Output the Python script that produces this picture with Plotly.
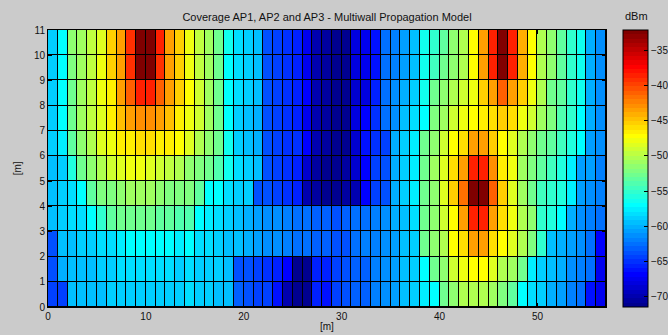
import numpy as np
import plotly.graph_objects as go

# Received power (dBm) on a 57 x 11 m grid, one value per 1 m cell.
# Rows listed from y = 10..11 m (top) down to y = 0..1 m (bottom).
row_10 = [-59, -57, -51.8, -51, -49.5, -48.3, -45.5, -43.3, -39, -32.1, -32.1, -38.8, -43.3, -45.5, -48, -49.5, -51, -52.5, -56.7, -58.2,
          -58.8, -59.5, -63.5, -64.3, -65, -65.8, -67.3, -70, -70.8, -71.5, -71.2, -68.2, -67.3, -66.2, -62.7, -62, -60.8, -59.6, -56.3, -55,
          -53.2, -51.7, -50, -47.2, -43.3, -38.8, -32.1, -38.8, -43.8, -47.4, -50.2, -51.8, -53.6, -55.1, -56.7, -60.4, -61.2]
row_9 = [-59, -57, -52.2, -51, -49.5, -48, -45.5, -43.3, -39.2, -32.5, -32.5, -39.2, -43.3, -45.5, -47.8, -49.5, -51, -52.5, -56.8, -58.2,
         -58.8, -59.5, -63.5, -64.3, -65, -65.6, -67.3, -70, -70.8, -71.4, -71.2, -68.4, -67.3, -66, -62.7, -62, -60.8, -59.4, -56.3, -54.8,
         -52.8, -51.3, -50, -47.4, -43.5, -38.8, -32.2, -38.8, -43.8, -47.4, -50.2, -51.8, -53.6, -55.1, -56.3, -60.4, -61.2]
row_8 = [-59, -57, -52.6, -51, -49.5, -48, -46.3, -43.5, -41, -38.5, -38.5, -41, -43.5, -45.5, -47.4, -49.3, -51, -52.8, -56.9, -58.5,
         -58.8, -59.6, -63.5, -64.3, -64.9, -65.4, -67, -70, -70.8, -71.3, -71, -68.6, -68, -65.4, -62.7, -61.6, -60, -58.8, -56.3, -52.8,
         -51.3, -50.1, -49, -48, -45.5, -43.3, -41, -43.3, -45.5, -48, -50.3, -52.5, -53.6, -55.1, -56.7, -60.2, -61.2]
row_7 = [-59, -57, -52.6, -51, -49.5, -48.4, -46.5, -45, -43.3, -42.6, -42.6, -43.3, -45, -46.5, -47.6, -49, -51, -52.8, -56.9, -58.8,
         -59.2, -60.2, -63.7, -64.3, -64.9, -65.4, -67.3, -70, -70.8, -71.3, -71, -68.2, -66.6, -65, -62.7, -61.2, -59.6, -58.5, -56.9, -52.4,
         -50.9, -49, -47.8, -47.4, -46.5, -46, -45.5, -46, -47.8, -49.3, -50.9, -52.4, -54.2, -55.1, -57.3, -60.4, -61.6]
row_6 = [-59, -57.5, -53.2, -51.3, -50, -48.7, -47.6, -46.5, -46.3, -46, -46, -46.3, -46.7, -47.4, -48.5, -50, -51.3, -53, -56.7, -58.8,
         -59.2, -60.2, -63.7, -64.3, -64.8, -65.2, -67, -70, -70.8, -71.3, -71, -68.6, -66.2, -65, -64.3, -60, -58.8, -57.7, -52.8, -51.7,
         -49.3, -47.4, -45.8, -43.5, -43.3, -45.6, -47.4, -48.4, -50, -51.3, -52.6, -53.6, -54.8, -55.9, -57.1, -60.8, -61.6]
row_5 = [-59.4, -59, -55.5, -52.8, -51.3, -50, -49, -48.4, -48, -48, -48.4, -49, -49.4, -50.1, -51.3, -52.4, -52.8, -54, -56.7, -58.5,
         -58.8, -59.2, -63.5, -64.3, -64.8, -65.4, -69, -70.4, -71.2, -71.2, -70.8, -69, -66.6, -64.6, -63.9, -60, -58.8, -57.7, -52.6, -51,
         -48.5, -46, -43.5, -38.8, -38.8, -42.6, -46.3, -48, -51, -52.4, -53.6, -54.8, -55.9, -57.7, -60.6, -60.8, -62]
row_4 = [-59.4, -59, -58.1, -56.8, -53.2, -52.4, -52, -51.2, -50.6, -50.6, -51, -51.4, -52, -52.4, -52, -53.4, -56.8, -57.3, -58.1, -58.6,
         -59, -63.5, -63.9, -64.3, -65, -65.8, -70, -70.8, -71.5, -71.5, -70.8, -69.7, -66.6, -64.6, -63.9, -60, -58.8, -57.9, -52.8, -51.3,
         -48.6, -45.5, -41.5, -32.3, -32.3, -41, -45.5, -48.4, -51, -52.8, -54.4, -55, -56, -57.5, -61, -61.3, -62]
row_3 = [-59.4, -59, -58.4, -58, -57.2, -55, -53.4, -53, -52.8, -52.8, -53, -53.1, -53.4, -53.8, -54, -56.8, -57.8, -58.4, -58.8, -59.2,
         -60.4, -60.8, -61.2, -61.6, -61.9, -62.3, -62.7, -63.1, -63.1, -63.5, -63.1, -62.7, -62.3, -62, -61.6, -60.4, -59.6, -58.5, -52.8, -51.8,
         -49.3, -47.2, -43.3, -38.8, -38.8, -43.3, -46, -48, -50.2, -51.8, -55.2, -56, -57.3, -60.4, -61.2, -61.8, -62.4]
row_2 = [-63.5, -59.6, -59.2, -58.8, -58.7, -58.5, -58.3, -57.9, -57.3, -57, -57, -56.8, -57.3, -57.5, -57, -58.1, -58.5, -58.8, -59.2, -59.4,
         -60.4, -60.8, -61.2, -61.6, -61.9, -62.3, -62.7, -63.1, -63.1, -63.5, -63.5, -62.7, -62.1, -61.8, -61.4, -60.8, -59.8, -58.8, -52.8, -51.8,
         -50.1, -47.4, -45.8, -43.3, -43.4, -45.8, -47.4, -48.5, -50.2, -52.4, -55, -59.6, -60.2, -60.8, -61.2, -62.4, -67]
row_1 = [-64, -60.2, -59.6, -59.4, -59.2, -58.8, -58.7, -58.5, -58.3, -58.3, -58.3, -58.5, -58.5, -58.7, -58.1, -58.7, -58.8, -59, -59.2, -63.5,
         -63.9, -64.6, -65, -65.4, -67, -71, -71.5, -65.4, -65.4, -64.3, -63.9, -63.3, -62.9, -62.1, -61.6, -60.8, -59.8, -58.7, -57.1, -52.8,
         -51.2, -48.8, -47.8, -47.4, -47.4, -48.4, -50, -50.6, -52.8, -57.9, -58.8, -59.6, -60.4, -61.2, -62, -62.7, -67.5]
row_0 = [-64.6, -64.3, -59.6, -59.6, -59.4, -59.4, -59, -59, -58.8, -58.8, -58.8, -58.8, -59, -59, -58.5, -58.8, -59, -59.2, -59.6, -63.1,
         -63.5, -64.3, -64.6, -66, -70, -71, -71.5, -65.8, -66, -64.6, -63.9, -63.3, -62.9, -62.1, -61.4, -60.6, -59.8, -58.8, -57.7, -56.8,
         -52.8, -51.3, -50.5, -50.1, -50.5, -51, -52, -53.4, -56.8, -58.1, -58.8, -60.2, -61, -61.8, -62.4, -66, -67.5]

z_rows = [row_0, row_1, row_2, row_3, row_4, row_5, row_6, row_7, row_8, row_9, row_10]
x_edges = list(range(0, 58))   # cell boundaries along x [m]
y_edges = list(range(0, 12))   # cell boundaries along y [m]
x_ticks = [0, 10, 20, 30, 40, 50]
y_ticks = list(range(0, 12))
cbar_ticks = [-70, -65, -60, -55, -50, -45, -40, -35]
z_min, z_max = -71.5, -32.1


def jet_steps(n=64):
    """Stepped jet colour map with n flat levels."""
    scale = []
    for i in range(n):
        t = (i + 1) / n
        r = np.clip(1.5 - abs(4 * t - 3), 0, 1)
        g = np.clip(1.5 - abs(4 * t - 2), 0, 1)
        b = np.clip(1.5 - abs(4 * t - 1), 0, 1)
        c = f"rgb({int(round(r * 255))},{int(round(g * 255))},{int(round(b * 255))})"
        scale.append([i / n, c])
        scale.append([(i + 1) / n, c])
    return scale


font = "Liberation Sans, Arial, Helvetica, sans-serif"

fig = go.Figure(
    go.Heatmap(
        z=z_rows,
        x=x_edges,
        y=y_edges,
        zmin=z_min,
        zmax=z_max,
        colorscale=jet_steps(64),
        xgap=1,
        ygap=1,
        colorbar=dict(
            tickvals=cbar_ticks,
            ticks="inside",
            ticklen=4,
            tickcolor="black",
            tickfont=dict(size=10, color="#111", family=font),
            thickness=25,
            thicknessmode="pixels",
            len=1.0,
            lenmode="fraction",
            x=1.0305,
            xanchor="left",
            xpad=0,
            y=0.5,
            yanchor="middle",
            ypad=0,
            outlinecolor="black",
            outlinewidth=1,
        ),
    )
)

axis_common = dict(
    showline=True,
    linecolor="black",
    linewidth=1,
    mirror="ticks",
    ticks="inside",
    ticklen=4,
    tickcolor="black",
    showgrid=False,
    zeroline=False,
    tickfont=dict(size=10, color="#111", family=font),
)

fig.update_layout(
    width=668,
    height=335,
    margin=dict(l=48, r=62, t=30, b=28, autoexpand=False),
    paper_bgcolor="#cbcbcb",
    plot_bgcolor="black",
    font=dict(family=font, size=10, color="#111"),
    title=dict(
        text="Coverage AP1, AP2 and AP3 - Multiwall Propagation Model",
        x=0.5 * (48 + 606) / 668,
        xanchor="center",
        y=1 - 17 / 335,
        yanchor="middle",
        font=dict(size=11, color="#111", family=font),
    ),
    xaxis=dict(range=[0, 57], tickvals=x_ticks, **axis_common),
    yaxis=dict(range=[0, 11], tickvals=y_ticks, **axis_common),
    annotations=[
        dict(text="[m]", xref="paper", yref="paper", x=0.5, y=-0.072,
             xanchor="center", yanchor="middle", showarrow=False,
             font=dict(size=10, color="#111", family=font)),
        dict(text="[m]", xref="paper", yref="paper", x=-0.054, y=0.5,
             xanchor="center", yanchor="middle", showarrow=False, textangle=-90,
             font=dict(size=10, color="#111", family=font)),
        dict(text="dBm", xref="paper", yref="paper", x=(636 - 48) / 558, y=(307 - 16) / 277,
             xanchor="center", yanchor="middle", showarrow=False,
             font=dict(size=11, color="#111", family=font)),
    ],
)

fig.write_html("out.html")
